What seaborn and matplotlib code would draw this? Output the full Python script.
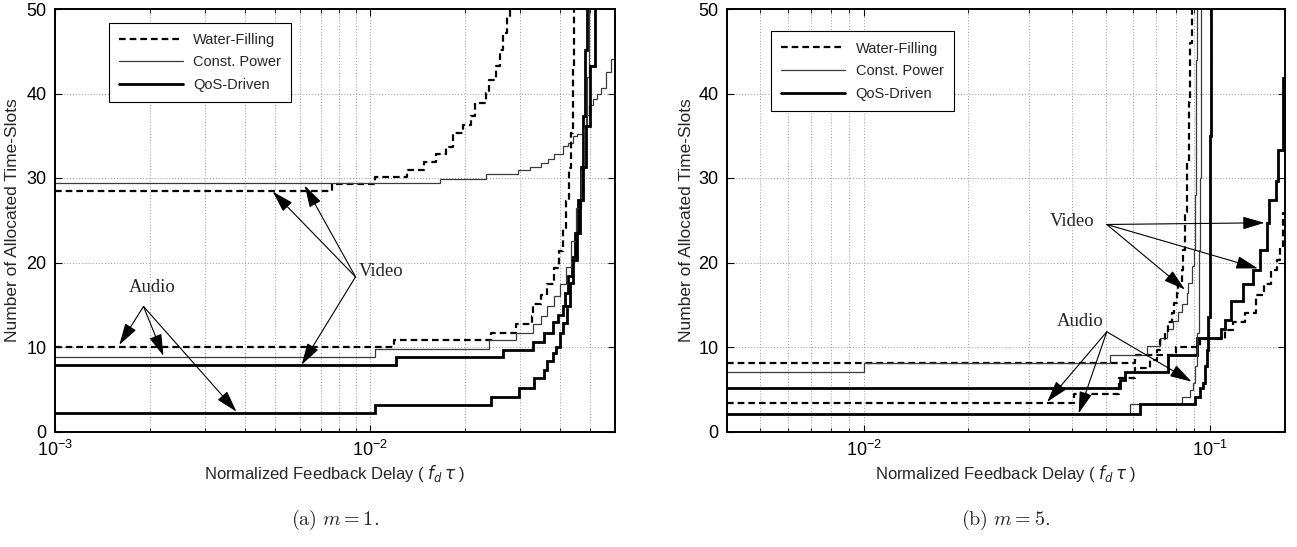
import numpy as np
import pandas as pd
import seaborn as sns
import matplotlib
matplotlib.use("Agg")
import matplotlib.pyplot as plt
from matplotlib.lines import Line2D
from matplotlib.ticker import LogLocator, NullFormatter

sns.set_theme(style="ticks")
plt.rcParams['font.family'] = ['Liberation Sans', 'DejaVu Sans']

# ---------------- data: (a) m = 1 ----------------
a_video_wf_x = [1e-3, 0.0076, 0.0104, 0.0131, 0.0149, 0.0162, 0.0174, 0.0184, 0.0197, 0.0209,
                0.0216, 0.0233, 0.0239, 0.0251, 0.0258, 0.0265, 0.0272, 0.0278, 0.0282]
a_video_wf_y = [28.5, 29.3, 30.1, 31.0, 31.9, 32.8, 33.7, 35.3, 36.3, 37.3,
                38.9, 40.1, 41.6, 43.2, 45.2, 47.2, 49.1, 55, 55]
a_video_cp_x = [1e-3, 0.01663, 0.0234, 0.0295, 0.0322, 0.0349, 0.0367, 0.0385, 0.0411, 0.0425,
                0.0440, 0.0455, 0.0474, 0.0485, 0.0497, 0.0510, 0.0525, 0.0541, 0.0562, 0.0584, 0.0597]
a_video_cp_y = [29.4, 29.9, 30.5, 30.9, 31.3, 31.8, 32.3, 32.8, 33.8, 34.2,
                35.0, 35.2, 36.2, 37.4, 38.6, 39.3, 39.9, 40.7, 42.5, 44.1, 44.1]
a_video_qos_x = [1e-3, 0.0121, 0.0264, 0.0330, 0.0358, 0.0381, 0.0395, 0.0411, 0.0416, 0.0427,
                 0.0438, 0.0447, 0.0457, 0.0469, 0.0475, 0.0481, 0.0488, 0.0492]
a_video_qos_y = [7.9, 8.8, 9.6, 10.65, 11.6, 13.0, 13.8, 14.8, 16.4, 18.4,
                 20.7, 23.5, 27.4, 31.3, 37.3, 45.2, 55, 55]
a_audio_wf_x = [1e-3, 0.01195, 0.02427, 0.0292, 0.0326, 0.0330, 0.0349, 0.0366, 0.0385, 0.0399,
                0.0411, 0.0420, 0.0430, 0.0436, 0.0442, 0.0446, 0.0448]
a_audio_wf_y = [10.05, 10.8, 11.7, 12.7, 13.7, 15.1, 16.2, 17.4, 19.4, 21.4,
                24.1, 27.3, 31.2, 35.3, 43.2, 55, 55]
a_audio_cp_x = [1e-3, 0.01035, 0.0238, 0.0290, 0.0330, 0.0349, 0.0366, 0.0385, 0.0400, 0.0418,
                0.0435, 0.0452, 0.0468, 0.0480, 0.0490, 0.0497, 0.0502]
a_audio_cp_y = [8.8, 9.8, 10.8, 11.7, 12.7, 13.7, 14.8, 16.0, 17.4, 19.5,
                22.5, 26.5, 31.0, 36.0, 42.0, 55, 55]
a_audio_qos_x = [1e-3, 0.0104, 0.0242, 0.0297, 0.0333, 0.0358, 0.0366, 0.0382, 0.0391, 0.0401,
                 0.0411, 0.0421, 0.0431, 0.0442, 0.0453, 0.0464, 0.0475, 0.0487, 0.0498, 0.0517,
                 0.0536, 0.0540]
a_audio_qos_y = [2.2, 3.15, 4.05, 5.2, 6.3, 7.3, 8.3, 9.3, 10.05, 11.6,
                 12.8, 14.8, 17.6, 20.3, 23.5, 27.4, 31.3, 36.1, 43.2, 55,
                 55, 55]

# ---------------- data: (b) m = 5 ----------------
b_video_wf_x = [0.004, 0.0608, 0.080, 0.0936, 0.1105, 0.1168, 0.1261, 0.1363, 0.1435, 0.150,
                0.1565, 0.1600, 0.1632, 0.165]
b_video_wf_y = [8.1, 9.1, 10.05, 11.0, 12.0, 13.0, 14.0, 16.2, 17.5, 19.1,
                20.3, 21.9, 25.9, 25.9]
b_video_cp_x = [0.004, 0.010, 0.0515, 0.0658, 0.0718, 0.0750, 0.0784, 0.0810, 0.0829, 0.0857,
                0.0866, 0.0885, 0.0899, 0.0905, 0.0910, 0.0913, 0.0916, 0.0920]
b_video_cp_y = [7.0, 8.1, 9.1, 10.1, 11.1, 12.1, 13.1, 14.1, 15.1, 16.4,
                17.6, 19.6, 21.5, 28, 36, 44, 55, 55]
b_video_qos_x = [0.004, 0.0551, 0.0569, 0.0758, 0.0916, 0.108, 0.1105, 0.1155, 0.1247, 0.1333,
                 0.1393, 0.1466, 0.1485, 0.1555, 0.1575, 0.1632, 0.165]
b_video_qos_y = [5.2, 6.1, 7.1, 9.06, 11.05, 12.1, 13.2, 15.4, 17.4, 19.1,
                 21.5, 24.7, 27.4, 29.6, 33.3, 41.8, 41.8]
b_audio_wf_x = [0.004, 0.0404, 0.0545, 0.0608, 0.0671, 0.0701, 0.0718, 0.0742, 0.0758, 0.0776,
                0.0787, 0.0802, 0.0810, 0.0829, 0.0838, 0.0848, 0.0858, 0.0868, 0.0878, 0.0886, 0.0890]
b_audio_wf_y = [3.4, 4.45, 6.3, 7.5, 8.5, 9.65, 10.8, 11.8, 13.0, 14.0,
                15.2, 16.4, 17.6, 19.1, 21.5, 26, 32, 39, 46, 55, 55]
b_audio_cp_x = [0.004, 0.0587, 0.0829, 0.0876, 0.0896, 0.0906, 0.0916, 0.0927, 0.0932, 0.0937,
                0.0941, 0.0945, 0.0950]
b_audio_cp_y = [2.1, 3.2, 4.1, 4.9, 5.7, 7.7, 11.6, 17.6, 21.5, 30,
                40, 55, 55]
b_audio_qos_x = [0.004, 0.0628, 0.0906, 0.0938, 0.0957, 0.0968, 0.0978, 0.0989, 0.1000, 0.1003,
                 0.1005, 0.1010]
b_audio_qos_y = [2.1, 3.2, 4.1, 5.1, 5.7, 7.7, 9.65, 13.6, 21.5, 35,
                 55, 55]

legend_labels = ["Water-Filling", "Const. Power", "QoS-Driven"]
y_ticks = [0, 10, 20, 30, 40, 50]
xlabel = r"Normalized Feedback Delay ( $f_d\,\tau$ )"
ylabel = "Number of Allocated Time-Slots"
captions = [r"$\mathrm{(a)}\ m=1.$", r"$\mathrm{(b)}\ m=5.$"]

styles = {
    "wf": dict(color="black", lw=1.6, ls=(0, (3.0, 1.8))),
    "cp": dict(color="#3a3a3a", lw=0.9, ls="-"),
    "qos": dict(color="black", lw=2.0, ls="-"),
}

W, H = 1297, 547
fig = plt.figure(figsize=(W / 100, H / 100), dpi=100)
axA = fig.add_axes([55 / W, (H - 431.5) / H, 560 / W, 422.5 / H])
axB = fig.add_axes([727 / W, (H - 431.5) / H, 558 / W, 422.5 / H])


def draw(ax, xs, ys, kind):
    df = pd.DataFrame({"x": xs, "y": ys})
    sns.lineplot(data=df, x="x", y="y", ax=ax, estimator=None, sort=False,
                 drawstyle="steps-post", color=styles[kind]["color"],
                 linewidth=styles[kind]["lw"], legend=False)
    ln = ax.lines[-1]
    ln.set_linestyle(styles[kind]["ls"])
    ln.set_solid_joinstyle("miter")


series_a = [(a_video_wf_x, a_video_wf_y, "wf"), (a_video_cp_x, a_video_cp_y, "cp"),
            (a_video_qos_x, a_video_qos_y, "qos"), (a_audio_wf_x, a_audio_wf_y, "wf"),
            (a_audio_cp_x, a_audio_cp_y, "cp"), (a_audio_qos_x, a_audio_qos_y, "qos")]
series_b = [(b_video_wf_x, b_video_wf_y, "wf"), (b_video_cp_x, b_video_cp_y, "cp"),
            (b_video_qos_x, b_video_qos_y, "qos"), (b_audio_wf_x, b_audio_wf_y, "wf"),
            (b_audio_cp_x, b_audio_cp_y, "cp"), (b_audio_qos_x, b_audio_qos_y, "qos")]

for ax, series, xlim in [(axA, series_a, (1e-3, 0.06)), (axB, series_b, (0.004, 0.165))]:
    for xs, ys, kind in series:
        draw(ax, xs, ys, kind)
    ax.set_xscale("log")
    ax.set_xlim(*xlim)
    ax.set_ylim(0, 50)
    ax.set_yticks(y_ticks)
    ax.xaxis.set_major_locator(LogLocator(base=10))
    ax.xaxis.set_minor_locator(LogLocator(base=10, subs=np.arange(2, 10)))
    ax.xaxis.set_minor_formatter(NullFormatter())
    ax.grid(True, which="major", axis="both", color="#9a9a9a", ls=(0, (1, 2)), lw=0.7)
    ax.grid(True, which="minor", axis="x", color="#9a9a9a", ls=(0, (1, 2)), lw=0.7)
    ax.tick_params(which="both", direction="in", top=True, right=True, labelsize=13,
                   colors="black", pad=6)
    ax.tick_params(which="major", length=5, width=0.8)
    ax.tick_params(which="minor", length=3, width=0.6)
    for s in ax.spines.values():
        s.set_color("black")
        s.set_linewidth(1.4)
        s.set_visible(True)
    ax.set_xlabel(xlabel, fontsize=12)
    ax.set_ylabel(ylabel, fontsize=12.5)
    ax.xaxis.set_label_coords(0.5, -0.074)
    ax.set_facecolor("white")

axA.yaxis.set_label_coords(-0.062, 0.5)
axB.yaxis.set_label_coords(-0.060, 0.5)

# legends
for ax, anchor in [(axA, (0.096, 0.968)), (axB, (0.079, 0.947))]:
    handles = [Line2D([], [], color=styles[k]["color"], lw=styles[k]["lw"], ls=styles[k]["ls"])
               for k in ["wf", "cp", "qos"]]
    leg = ax.legend(handles, legend_labels, loc="upper left", bbox_to_anchor=anchor,
                    frameon=True, fancybox=False, framealpha=1, edgecolor="black",
                    fontsize=10.5, handlelength=4.4, handletextpad=0.7,
                    borderpad=0.7, labelspacing=0.6, borderaxespad=0)
    leg.get_frame().set_linewidth(0.8)

# annotations
arrow_kw = dict(arrowstyle="-|>,head_length=0.75,head_width=0.22", mutation_scale=18,
                lw=0.8, color="black", shrinkA=0, shrinkB=0)
txt_kw = dict(family=["Liberation Serif", "DejaVu Serif"], fontsize=13.5)

axA.text(0.00922, 18.9, "Video", ha="left", va="center", **txt_kw)
for tip in [(0.00491, 28.4), (0.00621, 29.1), (0.00607, 7.9)]:
    axA.annotate("", xy=tip, xytext=(0.0090, 18.3), arrowprops=arrow_kw)
axA.text(0.00203, 17.0, "Audio", ha="center", va="center", **txt_kw)
for tip in [(0.0016, 10.25), (0.00221, 8.95), (0.00377, 2.35)]:
    axA.annotate("", xy=tip, xytext=(0.00191, 14.8), arrowprops=arrow_kw)

axB.text(0.0399, 24.9, "Video", ha="center", va="center", **txt_kw)
for tip in [(0.144, 24.7), (0.0847, 16.8), (0.1377, 19.3)]:
    axB.annotate("", xy=tip, xytext=(0.0503, 24.5), arrowprops=arrow_kw)
axB.text(0.0422, 13.0, "Audio", ha="center", va="center", **txt_kw)
for tip in [(0.0338, 3.5), (0.0417, 2.15), (0.0885, 5.9)]:
    axB.annotate("", xy=tip, xytext=(0.0503, 11.8), arrowprops=arrow_kw)

# captions
fig.text(335 / W, 1 - 520 / H, captions[0], ha="center", va="center", fontsize=14.5,
         math_fontfamily="cm")
fig.text(1006 / W, 1 - 520 / H, captions[1], ha="center", va="center", fontsize=14.5,
         math_fontfamily="cm")

fig.patch.set_facecolor("white")
fig.savefig("out.png", dpi=100, facecolor="white")
